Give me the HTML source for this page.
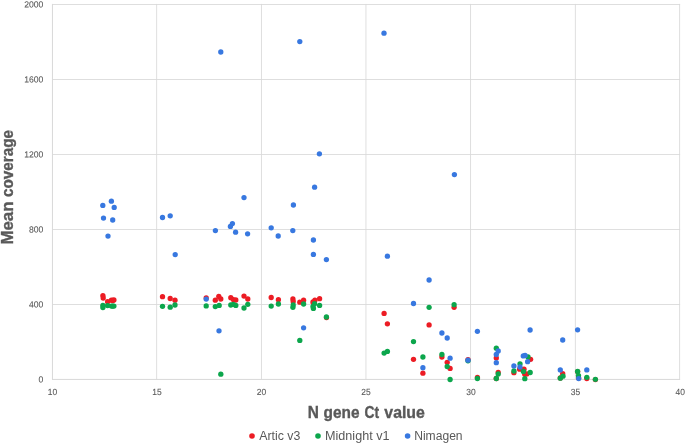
<!DOCTYPE html>
<html lang="en"><head><meta charset="utf-8"><title>Mean coverage vs N gene Ct value</title>
<style>html,body{margin:0;padding:0;background:#fff}svg{display:block}text{font-family:"Liberation Sans",sans-serif;fill:#595959}</style></head><body>
<svg width="685" height="445" viewBox="0 0 685 445">
<rect width="685" height="445" fill="#fff"/>
<g fill="#d9d9d9">
<rect x="52" y="4.00" width="628.1" height="0.85"/>
<rect x="52" y="79.00" width="628.1" height="0.85"/>
<rect x="52" y="153.99" width="628.1" height="0.85"/>
<rect x="52" y="228.99" width="628.1" height="0.85"/>
<rect x="52" y="304.00" width="628.1" height="0.85"/>
<rect x="52" y="378.92" width="628.1" height="1"/>
<rect x="51.95" y="3.9" width="1" height="376"/>
<rect x="156.27" y="3.9" width="0.85" height="376"/>
<rect x="260.97" y="3.9" width="0.85" height="376"/>
<rect x="365.52" y="3.9" width="0.85" height="376"/>
<rect x="470.18" y="3.9" width="0.85" height="376"/>
<rect x="574.88" y="3.9" width="0.85" height="376"/>
<rect x="679.23" y="3.9" width="0.85" height="376"/>
</g>
<g font-size="8.9" text-anchor="end" stroke="#595959" stroke-width="0.08">
<text transform="translate(43.4,7.4) rotate(0.03)" textLength="19.2" lengthAdjust="spacingAndGlyphs">2000</text>
<text transform="translate(43.4,82.4) rotate(0.03)" textLength="19.2" lengthAdjust="spacingAndGlyphs">1600</text>
<text transform="translate(43.4,157.4) rotate(0.03)" textLength="19.2" lengthAdjust="spacingAndGlyphs">1200</text>
<text transform="translate(43.4,232.4) rotate(0.03)" textLength="14.4" lengthAdjust="spacingAndGlyphs">800</text>
<text transform="translate(43.4,307.4) rotate(0.03)" textLength="14.4" lengthAdjust="spacingAndGlyphs">400</text>
<text transform="translate(43.4,382.4) rotate(0.03)" textLength="4.8" lengthAdjust="spacingAndGlyphs">0</text>
</g>
<g font-size="8.9" text-anchor="middle" stroke="#595959" stroke-width="0.08">
<text transform="translate(52.5,395.1) rotate(0.03)" textLength="9.4" lengthAdjust="spacingAndGlyphs">10</text>
<text transform="translate(156.9,395.1) rotate(0.03)" textLength="9.4" lengthAdjust="spacingAndGlyphs">15</text>
<text transform="translate(261.5,395.1) rotate(0.03)" textLength="9.4" lengthAdjust="spacingAndGlyphs">20</text>
<text transform="translate(366.0,395.1) rotate(0.03)" textLength="9.4" lengthAdjust="spacingAndGlyphs">25</text>
<text transform="translate(470.9,395.1) rotate(0.03)" textLength="9.4" lengthAdjust="spacingAndGlyphs">30</text>
<text transform="translate(575.5,395.1) rotate(0.03)" textLength="9.4" lengthAdjust="spacingAndGlyphs">35</text>
<text transform="translate(680.3,395.1) rotate(0.03)" textLength="9.4" lengthAdjust="spacingAndGlyphs">40</text>
</g>
<text y="418" font-size="16.6" stroke="#595959" stroke-width="0.35" font-weight="bold"><tspan x="307.74" textLength="11.14" lengthAdjust="spacingAndGlyphs">N</tspan> <tspan x="323.54" textLength="35.92" lengthAdjust="spacingAndGlyphs">gene</tspan> <tspan x="364.46" textLength="14.58" lengthAdjust="spacingAndGlyphs">Ct</tspan> <tspan x="384.34" textLength="40.54" lengthAdjust="spacingAndGlyphs">value</tspan></text>
<text transform="translate(13.4,0) rotate(-90)" font-size="16.6" stroke="#595959" stroke-width="0.35" font-weight="bold"><tspan x="-244.60" textLength="43.10" lengthAdjust="spacingAndGlyphs">Mean</tspan> <tspan x="-197.00" textLength="66.96" lengthAdjust="spacingAndGlyphs">coverage</tspan></text>
<g fill="#ec1c24">
<circle cx="102.9" cy="295.6" r="2.65"/>
<circle cx="103.2" cy="298.0" r="2.65"/>
<circle cx="107.6" cy="301.7" r="2.65"/>
<circle cx="111.4" cy="300.2" r="2.65"/>
<circle cx="112.7" cy="300.5" r="2.65"/>
<circle cx="113.9" cy="300.0" r="2.65"/>
<circle cx="162.5" cy="296.7" r="2.65"/>
<circle cx="170.2" cy="298.5" r="2.65"/>
<circle cx="175.0" cy="300.2" r="2.65"/>
<circle cx="206.2" cy="298.0" r="2.65"/>
<circle cx="215.3" cy="300.2" r="2.65"/>
<circle cx="218.8" cy="296.4" r="2.65"/>
<circle cx="220.8" cy="299.0" r="2.65"/>
<circle cx="230.8" cy="297.7" r="2.65"/>
<circle cx="233.3" cy="299.6" r="2.65"/>
<circle cx="235.8" cy="300.0" r="2.65"/>
<circle cx="244.0" cy="296.1" r="2.65"/>
<circle cx="247.8" cy="299.0" r="2.65"/>
<circle cx="271.2" cy="297.5" r="2.65"/>
<circle cx="278.4" cy="299.7" r="2.65"/>
<circle cx="292.9" cy="299.0" r="2.65"/>
<circle cx="293.2" cy="301.5" r="2.65"/>
<circle cx="299.8" cy="302.2" r="2.65"/>
<circle cx="303.6" cy="300.2" r="2.65"/>
<circle cx="314.9" cy="300.2" r="2.65"/>
<circle cx="313.0" cy="302.0" r="2.65"/>
<circle cx="313.4" cy="303.0" r="2.65"/>
<circle cx="319.6" cy="298.7" r="2.65"/>
<circle cx="326.5" cy="317.6" r="2.65"/>
<circle cx="384.1" cy="313.4" r="2.65"/>
<circle cx="387.4" cy="323.8" r="2.65"/>
<circle cx="413.5" cy="359.3" r="2.65"/>
<circle cx="422.9" cy="373.2" r="2.65"/>
<circle cx="429.1" cy="324.9" r="2.65"/>
<circle cx="441.9" cy="357.0" r="2.65"/>
<circle cx="447.2" cy="362.3" r="2.65"/>
<circle cx="450.1" cy="368.4" r="2.65"/>
<circle cx="454.1" cy="307.3" r="2.65"/>
<circle cx="468.0" cy="359.6" r="2.65"/>
<circle cx="477.4" cy="377.4" r="2.65"/>
<circle cx="496.3" cy="357.9" r="2.65"/>
<circle cx="498.2" cy="372.4" r="2.65"/>
<circle cx="496.3" cy="378.5" r="2.65"/>
<circle cx="513.9" cy="372.7" r="2.65"/>
<circle cx="519.6" cy="369.2" r="2.65"/>
<circle cx="524.0" cy="369.2" r="2.65"/>
<circle cx="524.8" cy="374.3" r="2.65"/>
<circle cx="526.8" cy="373.9" r="2.65"/>
<circle cx="530.6" cy="359.3" r="2.65"/>
<circle cx="560.3" cy="378.0" r="2.65"/>
<circle cx="562.7" cy="373.7" r="2.65"/>
<circle cx="577.6" cy="371.6" r="2.65"/>
<circle cx="578.6" cy="378.0" r="2.65"/>
<circle cx="586.8" cy="378.6" r="2.65"/>
<circle cx="595.4" cy="379.6" r="2.65"/>
</g>
<g fill="#0ca64c">
<circle cx="102.9" cy="305.3" r="2.65"/>
<circle cx="102.9" cy="307.5" r="2.65"/>
<circle cx="107.6" cy="305.6" r="2.65"/>
<circle cx="111.4" cy="306.1" r="2.65"/>
<circle cx="112.7" cy="306.1" r="2.65"/>
<circle cx="113.9" cy="306.1" r="2.65"/>
<circle cx="162.5" cy="306.3" r="2.65"/>
<circle cx="170.2" cy="307.2" r="2.65"/>
<circle cx="175.0" cy="305.0" r="2.65"/>
<circle cx="206.2" cy="305.9" r="2.65"/>
<circle cx="215.3" cy="306.6" r="2.65"/>
<circle cx="219.2" cy="305.4" r="2.65"/>
<circle cx="220.8" cy="374.2" r="2.65"/>
<circle cx="230.8" cy="305.0" r="2.65"/>
<circle cx="233.3" cy="304.3" r="2.65"/>
<circle cx="235.8" cy="305.4" r="2.65"/>
<circle cx="244.0" cy="308.0" r="2.65"/>
<circle cx="247.8" cy="304.3" r="2.65"/>
<circle cx="271.2" cy="306.1" r="2.65"/>
<circle cx="278.4" cy="304.0" r="2.65"/>
<circle cx="293.2" cy="305.0" r="2.65"/>
<circle cx="292.9" cy="307.3" r="2.65"/>
<circle cx="299.8" cy="340.4" r="2.65"/>
<circle cx="303.6" cy="304.0" r="2.65"/>
<circle cx="314.6" cy="303.7" r="2.65"/>
<circle cx="313.0" cy="306.5" r="2.65"/>
<circle cx="313.4" cy="308.4" r="2.65"/>
<circle cx="319.6" cy="305.4" r="2.65"/>
<circle cx="326.4" cy="317.0" r="2.65"/>
<circle cx="384.1" cy="353.1" r="2.65"/>
<circle cx="387.4" cy="351.4" r="2.65"/>
<circle cx="413.5" cy="341.6" r="2.65"/>
<circle cx="422.9" cy="357.0" r="2.65"/>
<circle cx="429.1" cy="307.3" r="2.65"/>
<circle cx="441.9" cy="354.5" r="2.65"/>
<circle cx="447.2" cy="366.5" r="2.65"/>
<circle cx="450.1" cy="379.5" r="2.65"/>
<circle cx="454.1" cy="304.7" r="2.65"/>
<circle cx="468.0" cy="360.8" r="2.65"/>
<circle cx="477.4" cy="378.5" r="2.65"/>
<circle cx="496.3" cy="348.2" r="2.65"/>
<circle cx="498.2" cy="374.0" r="2.65"/>
<circle cx="496.3" cy="378.5" r="2.65"/>
<circle cx="513.9" cy="371.0" r="2.65"/>
<circle cx="520.0" cy="363.8" r="2.65"/>
<circle cx="523.4" cy="371.4" r="2.65"/>
<circle cx="524.8" cy="378.7" r="2.65"/>
<circle cx="528.0" cy="356.9" r="2.65"/>
<circle cx="530.2" cy="372.5" r="2.65"/>
<circle cx="560.3" cy="378.2" r="2.65"/>
<circle cx="563.0" cy="376.2" r="2.65"/>
<circle cx="577.6" cy="371.4" r="2.65"/>
<circle cx="578.5" cy="375.6" r="2.65"/>
<circle cx="586.8" cy="377.3" r="2.65"/>
<circle cx="595.4" cy="379.3" r="2.65"/>
</g>
<g fill="#3878e0">
<circle cx="111.4" cy="201.2" r="2.65"/>
<circle cx="102.8" cy="205.4" r="2.65"/>
<circle cx="114.2" cy="207.4" r="2.65"/>
<circle cx="103.5" cy="218.1" r="2.65"/>
<circle cx="112.7" cy="220.0" r="2.65"/>
<circle cx="108.0" cy="236.1" r="2.65"/>
<circle cx="162.5" cy="217.5" r="2.65"/>
<circle cx="170.2" cy="215.8" r="2.65"/>
<circle cx="175.2" cy="254.6" r="2.65"/>
<circle cx="206.2" cy="299.1" r="2.65"/>
<circle cx="215.4" cy="230.6" r="2.65"/>
<circle cx="220.8" cy="52.0" r="2.65"/>
<circle cx="219.0" cy="330.8" r="2.65"/>
<circle cx="230.4" cy="226.4" r="2.65"/>
<circle cx="232.4" cy="223.6" r="2.65"/>
<circle cx="235.6" cy="232.2" r="2.65"/>
<circle cx="244.0" cy="197.6" r="2.65"/>
<circle cx="247.6" cy="233.8" r="2.65"/>
<circle cx="271.2" cy="227.8" r="2.65"/>
<circle cx="278.2" cy="236.0" r="2.65"/>
<circle cx="292.8" cy="230.6" r="2.65"/>
<circle cx="293.4" cy="205.0" r="2.65"/>
<circle cx="299.8" cy="41.6" r="2.65"/>
<circle cx="303.6" cy="327.8" r="2.65"/>
<circle cx="313.4" cy="240.0" r="2.65"/>
<circle cx="313.4" cy="254.4" r="2.65"/>
<circle cx="314.6" cy="187.2" r="2.65"/>
<circle cx="319.4" cy="153.8" r="2.65"/>
<circle cx="326.4" cy="259.6" r="2.65"/>
<circle cx="384.0" cy="33.2" r="2.65"/>
<circle cx="387.4" cy="256.2" r="2.65"/>
<circle cx="413.5" cy="303.5" r="2.65"/>
<circle cx="422.9" cy="367.7" r="2.65"/>
<circle cx="429.1" cy="280.0" r="2.65"/>
<circle cx="441.9" cy="333.0" r="2.65"/>
<circle cx="447.2" cy="338.0" r="2.65"/>
<circle cx="450.1" cy="358.2" r="2.65"/>
<circle cx="454.4" cy="174.6" r="2.65"/>
<circle cx="468.0" cy="360.2" r="2.65"/>
<circle cx="477.4" cy="331.3" r="2.65"/>
<circle cx="498.2" cy="351.0" r="2.65"/>
<circle cx="496.3" cy="354.5" r="2.65"/>
<circle cx="496.3" cy="362.7" r="2.65"/>
<circle cx="513.9" cy="365.9" r="2.65"/>
<circle cx="520.0" cy="367.0" r="2.65"/>
<circle cx="523.3" cy="355.9" r="2.65"/>
<circle cx="525.1" cy="355.4" r="2.65"/>
<circle cx="527.6" cy="361.7" r="2.65"/>
<circle cx="530.1" cy="330.0" r="2.65"/>
<circle cx="560.3" cy="369.9" r="2.65"/>
<circle cx="562.7" cy="340.0" r="2.65"/>
<circle cx="577.6" cy="329.8" r="2.65"/>
<circle cx="578.7" cy="378.6" r="2.65"/>
<circle cx="586.8" cy="369.9" r="2.65"/>
</g>
<circle cx="252" cy="436" r="2.8" fill="#ec1c24"/>
<circle cx="318" cy="436" r="2.8" fill="#0ca64c"/>
<circle cx="407.6" cy="436" r="2.8" fill="#3878e0"/>
<g font-size="12">
<text x="259.2" y="439.8" textLength="41.2" lengthAdjust="spacingAndGlyphs">Artic v3</text>
<text x="325.0" y="439.8" textLength="64.5" lengthAdjust="spacingAndGlyphs">Midnight v1</text>
<text x="414.2" y="439.8" textLength="48.4" lengthAdjust="spacingAndGlyphs">Nimagen</text>
</g>
</svg></body></html>
